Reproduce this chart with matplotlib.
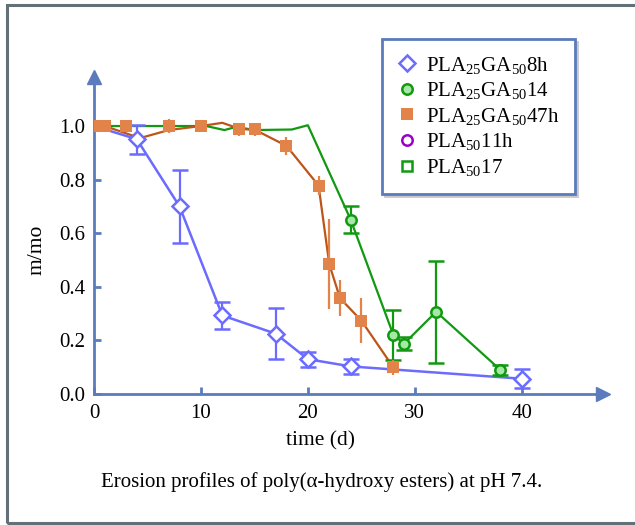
import numpy as np
import matplotlib
matplotlib.use('Agg')
import matplotlib.pyplot as plt
from matplotlib.lines import Line2D
from matplotlib.patches import Rectangle

# 各系列のデータ
days_8h = [0, 4, 8, 12, 17, 20, 24, 40]
mass_8h = [1.0, 0.951, 0.70, 0.293, 0.225, 0.130, 0.103, 0.057]
err_8h = [0, 0.054, 0.135, 0.05, 0.095, 0.028, 0.029, 0.035]

days_14 = [24, 28, 29, 32, 38]
mass_14 = [0.651, 0.22, 0.188, 0.307, 0.09]
err_14 = [0.051, 0.092, 0.023, 0.19, 0.019]
# 14 の曲線 (前半は印なし)
curve_14_days = [0, 10.5, 12.2, 13.3, 15, 18.5, 20, 24, 28, 29, 32, 38]
curve_14_mass = [1.0, 1.0, 0.985, 0.997, 0.985, 0.987, 1.003, 0.651, 0.22, 0.188, 0.307, 0.09]

days_47h = [0, 1, 3, 7, 10, 13.6, 15.1, 18, 21, 22, 23, 25, 28]
mass_47h = [1.0, 1.0, 1.0, 1.0, 1.0, 0.988, 0.988, 0.926, 0.778, 0.485, 0.358, 0.274, 0.099]
err_47h = [0, 0, 0.023, 0.025, 0, 0.025, 0.025, 0.033, 0.035, 0.167, 0.066, 0.085, 0.028]
curve_47h_days = [0, 1, 4.3, 7, 10, 12, 13.6, 15.1, 18, 21, 22, 23, 25, 28]
curve_47h_mass = [1.0, 1.0, 0.955, 0.985, 1.0, 1.012, 0.99, 0.985, 0.926, 0.778, 0.485, 0.358, 0.274, 0.099]

labels = [r'PLA$_{\mathrm{25}}$GA$_{\mathrm{50}}$8h',
          r'PLA$_{\mathrm{25}}$GA$_{\mathrm{50}}$14',
          r'PLA$_{\mathrm{25}}$GA$_{\mathrm{50}}$47h',
          r'PLA$_{\mathrm{50}}$11h',
          r'PLA$_{\mathrm{50}}$17']

# 色
c_axis = '#5b7bbd'
c_blue = '#6b6bff'
c_green = '#119911'
c_orange = '#e2834a'
c_orange_line = '#bd5519'
c_purple = '#9900cc'

plt.rcParams['font.family'] = ['Liberation Serif', 'DejaVu Serif']
plt.rcParams['mathtext.fontset'] = 'custom'
plt.rcParams['mathtext.rm'] = 'Liberation Serif'
plt.rcParams['mathtext.it'] = 'Liberation Serif:italic'

fig = plt.figure(figsize=(6.35, 5.25), dpi=100)
ax = fig.add_axes([94 / 635, 131 / 525, 509 / 635, 317 / 525])
ax.set_xlim(0, 47.6)
ax.set_ylim(0, 1.183)

# 線
ax.plot(curve_14_days, curve_14_mass, color=c_green, lw=1.6, zorder=2)
ax.plot(curve_47h_days, curve_47h_mass, color=c_orange_line, lw=1.6, zorder=2)
ax.plot(days_8h, mass_8h, color=c_blue, lw=1.8, zorder=3)

# エラーバーと印
ax.errorbar(days_14, mass_14, yerr=err_14, fmt='o', color=c_green, ms=7.5,
            mfc='#a6e8a6', mec=c_green, mew=1.8, elinewidth=1.6, capsize=6,
            capthick=1.6, zorder=4)
ax.errorbar(days_8h[1:], mass_8h[1:], yerr=err_8h[1:], fmt='D', color=c_blue, ms=8,
            mfc='white', mec=c_blue, mew=1.8, elinewidth=1.6, capsize=6,
            capthick=1.6, zorder=4)
ax.errorbar(days_47h, mass_47h, yerr=err_47h, fmt='s', color=c_orange, ms=9,
            mfc=c_orange, mec=c_orange, mew=0, elinewidth=1.6, capsize=6,
            capthick=1.6, zorder=5)

# 軸
for side in ['top', 'right']:
    ax.spines[side].set_visible(False)
for side in ['left', 'bottom']:
    ax.spines[side].set_color(c_axis)
    ax.spines[side].set_linewidth(2)
ax.plot(1, 0, '>', color=c_axis, ms=10, transform=ax.transAxes, clip_on=False)
ax.plot(0, 1, '^', color=c_axis, ms=10, transform=ax.transAxes, clip_on=False)

ax.set_xticks([0, 10, 20, 30, 40])
ax.set_yticks([0, 0.2, 0.4, 0.6, 0.8, 1.0])
ax.set_yticklabels(['0.0', '0.2', '0.4', '0.6', '0.8', '1.0'])
ax.tick_params(direction='in', length=5, width=2, color=c_axis, labelsize=15)
ax.tick_params(axis='x', pad=7)
ax.tick_params(axis='y', pad=6)

fig.text(320 / 635, 1 - 441 / 525, 'time (d)', ha='center', va='center', fontsize=15.5)
fig.text(37 / 635, 1 - 250 / 525, 'm/mo', ha='center', va='center', rotation=90, fontsize=15.5)
fig.text(322 / 635, 1 - 482 / 525, 'Erosion profiles of poly(\u03b1-hydroxy esters) at pH 7.4.',
         ha='center', va='center', fontsize=15)

# 凡例
handles = [
    Line2D([], [], ls='none', marker='D', ms=8, mfc='white', mec=c_blue, mew=1.8),
    Line2D([], [], ls='none', marker='o', ms=7.5, mfc='#a6e8a6', mec=c_green, mew=1.8),
    Line2D([], [], ls='none', marker='s', ms=9, mfc=c_orange, mec=c_orange, mew=0),
    Line2D([], [], ls='none', marker='o', ms=7.5, mfc='white', mec=c_purple, mew=1.8),
    Line2D([], [], ls='none', marker='s', ms=7.5, mfc='white', mec=c_green, mew=1.8),
]
leg = ax.legend(handles, labels, loc='upper left', bbox_to_anchor=(382 / 635, 1 - 39 / 525),
                bbox_transform=fig.transFigure, fontsize=15, frameon=True, fancybox=False,
                shadow={'color': '#c8c8c8', 'alpha': 1}, handlelength=0.9,
                handletextpad=0.45, labelspacing=0.22, borderpad=0.75, borderaxespad=0)
leg.get_frame().set_edgecolor(c_axis)
leg.get_frame().set_linewidth(2)

# 外枠
fig.patches.append(Rectangle((7 / 635, 2.5 / 525), 640 / 635, 517.5 / 525, fill=False,
                             edgecolor='#637078', lw=2.2, transform=fig.transFigure))

fig.savefig('out.png', dpi=100)
